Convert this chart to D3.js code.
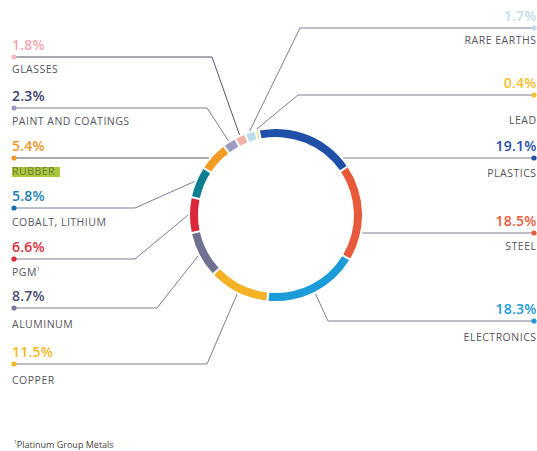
<!DOCTYPE html>
<html><head><meta charset="utf-8">
<script src="https://cdn.jsdelivr.net/npm/d3@7/dist/d3.min.js"></script>
<style>
html,body{margin:0;padding:0;background:#fff;}
svg{display:block;font-family:"Open Sans",sans-serif;}
</style></head>
<body>
<svg id="chart" width="537" height="451"></svg>
<script>
// ---- data (clockwise from top) ----
const categories = ["PLASTICS","STEEL","ELECTRONICS","COPPER","ALUMINUM","PGM","COBALT, LITHIUM","RUBBER","PAINT AND COATINGS","GLASSES","RARE EARTHS","LEAD"];
const values = [19.1,18.5,18.3,11.5,8.7,6.6,5.8,5.4,2.3,1.8,1.7,0.4];
const segmentColors = ["#1f4fa6","#e6593a","#1b9bd7","#f4b325","#707090","#da2638","#0f7e92","#f29b22","#9d9cc0","#f1b3a9","#b9dcef","#e6e27a"];
const textColors = ["#1f4ea8","#e85c3a","#1a9ad6","#f2b820","#4a4c70","#e02b3a","#1a7fb6","#f0982a","#3b3f6b","#f4a6b0","#c2dbef","#f2c230"];
const dotColors = ["#1f4ea8","#e85c3a","#1a9ad6","#f2b820","#7a7a9a","#e02b3a","#1a6eb0","#f0982a","#9a9ac0","#f4b6c0","#c2dbef","#f2c230"];
const footnote = "Platinum Group Metals";

// ---- layout (label placement) ----
const layout = {
  "PLASTICS":          {side:"right", y:158, mode:"h", nameDy:19},
  "STEEL":             {side:"right", y:233, mode:"h", nameDy:17},
  "ELECTRONICS":       {side:"right", y:321, ex:328, nameDy:20},
  "COPPER":            {side:"left",  y:364, ex:207, nameDy:20},
  "ALUMINUM":          {side:"left",  y:308, ex:157, nameDy:20},
  "PGM":               {side:"left",  y:259, ex:135, nameDy:17},
  "COBALT, LITHIUM":   {side:"left",  y:208, ex:135, nameDy:18},
  "RUBBER":            {side:"left",  y:158, mode:"h", nameDy:17},
  "PAINT AND COATINGS":{side:"left",  y:108, ex:207, nameDy:17},
  "GLASSES":           {side:"left",  y:57,  ex:212, nameDy:16},
  "RARE EARTHS":       {side:"right", y:28,  ex:300, nameDy:16},
  "LEAD":              {side:"right", y:95,  ex:298, nameDy:29}
};

const cx = 276, cy = 215, rOuter = 86, rInner = 78, rLead = 88;
const leftX = 14, rightX = 534;
const svg = d3.select("#chart");

const startA = -11.5 * Math.PI / 180;
const pie = d3.pie().sort(null).value(d => d.v).startAngle(startA).endAngle(startA + 2*Math.PI).padAngle(0.018);
const data = categories.map((c,i)=>({c, v:values[i], i}));
const arcs = pie(data);
const arc = d3.arc().innerRadius(rInner).outerRadius(rOuter);

const g = svg.append("g").attr("transform", `translate(${cx},${cy})`);
g.selectAll("path.seg").data(arcs).enter().append("path")
  .attr("class","seg").attr("d", arc).attr("fill", d => segmentColors[d.data.i]);

const fmt = d3.format(".1f");
const leaders = svg.append("g");
const labels = svg.append("g");

arcs.forEach(a => {
  const c = a.data.c, i = a.data.i, L = layout[c];
  const mid = (a.startAngle + a.endAngle)/2;
  const px = cx + rLead*Math.sin(mid), py = cy - rLead*Math.cos(mid);
  const dotX = L.side === "left" ? leftX : rightX;
  let pts;
  if (L.mode === "h") {
    const dx = Math.sqrt(rLead*rLead - (L.y-cy)*(L.y-cy));
    const ix = L.side === "left" ? cx - dx : cx + dx;
    pts = [[dotX, L.y],[ix, L.y]];
  } else {
    pts = [[dotX, L.y],[L.ex, L.y],[px, py]];
  }
  leaders.append("path")
    .attr("d", d3.line()(pts))
    .attr("fill","none")
    .attr("stroke", c === "GLASSES" || c === "RUBBER" ? "#55556a" : "#7d7d95")
    .attr("stroke-width", 1);
  leaders.append("circle").attr("cx", dotX).attr("cy", L.y).attr("r", 2.6).attr("fill", dotColors[i]);

  const anchor = L.side === "left" ? "start" : "end";
  const tx = L.side === "left" ? 12 : 536.5;
  labels.append("text").attr("x", tx).attr("y", L.y - 7)
    .attr("text-anchor", anchor).attr("font-size", 14).attr("font-weight", 600)
    .attr("letter-spacing", 0.2)
    .attr("fill", textColors[i]).text(fmt(a.data.v) + "%");

  if (c === "RUBBER") {
    labels.append("rect").attr("x", 12).attr("y", L.y + 9).attr("width", 48).attr("height", 10).attr("fill", "#a9c83b");
  }
  const t = labels.append("text").attr("x", tx).attr("y", L.y + L.nameDy)
    .attr("text-anchor", anchor).attr("font-size", 10.5).attr("letter-spacing", 0.5)
    .attr("fill", c === "RUBBER" ? "#6e7a3a" : "#555560")
    .text(c);
  if (c === "PGM") {
    t.append("tspan").attr("font-size", 5).attr("dy", -5).text("1");
  }
});

const fn = svg.append("text").attr("x", 14).attr("y", 448).attr("font-size", 9).attr("fill", "#444");
fn.append("tspan").attr("font-size", 5).attr("dy", -4).text("1");
fn.append("tspan").attr("dy", 4).text(footnote);
</script>
</body></html>
